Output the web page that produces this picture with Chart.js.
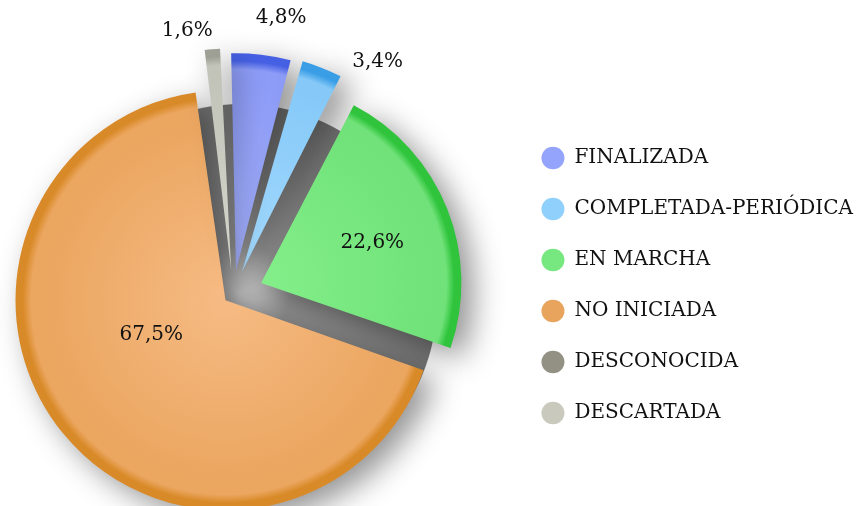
<!DOCTYPE html>
<html>
<head>
<meta charset="utf-8">
<script src="https://cdn.jsdelivr.net/npm/chart.js@4.4.1/dist/chart.umd.min.js"></script>
<style>
    html, body { margin: 0; padding: 0; background: #fff; overflow: hidden; width: 860px; height: 506px; }
    /* canvas is wider than the window so the pie can sit left of the legend */
    #chartBox { position: absolute; left: -100px; top: 0; width: 1000px; height: 506px; }
</style>
</head>
<body>
<div id="chartBox"><canvas id="myChart"></canvas></div>
<script>
//Categories and their share (%)
const categories = ['FINALIZADA', 'COMPLETADA-PERIÓDICA', 'EN MARCHA', 'NO INICIADA', 'DESCONOCIDA', 'DESCARTADA'];
const percentages = [4.8, 3.4, 22.6, 67.5, 0, 1.6];

//Colours
const legendColors = ['#94a3fb', '#8fd0fd', '#77e87f', '#e8a35c', '#939184', '#c9c9be'];
const centreColors = ['#a6b2ff', '#a4dafe', '#84ef8a', '#f6bb84', '#9a988c', '#d4d5cb'];
const edgeColors   = ['#8d9cf7', '#86c9f8', '#70e279', '#eba660', '#8a887c', '#c3c4b9'];
const rimColors    = ['#4660e4', '#3a9ee6', '#2fc43c', '#d98a28', '#6f6d62', '#9e9f95'];

//How far each slice is pulled out (px) and where its label goes
const explode    = [24, 24, 30, 10, 0, 24];
const labelTurn  = [3.5, 11.5, 2, 14.5, 0, -5.5];
const labelReach = [1.18, 1.14, 0.59, 0.39, 0, 1.10];

const PIE_RADIUS = 200;

function FormatPercent (_value)
{
    return _value.toFixed(1).replace('.', ',') + '%';
}

//Chart.js grows the radius of a pulled out arc by offset * fix
function RadiusFix (_index)
{
    var total = percentages.reduce(function (a, b) { return a + b; }, 0);
    var circ = percentages[_index] / total * Math.PI * 2;
    return 1 - Math.sin(Math.min(Math.PI, circ));
}

function SliceFill (_context)
{
    var chart = _context.chart;
    var area = chart.chartArea;
    var i = _context.dataIndex;
    if (!area)
    {
        return legendColors[i];
    }
    var cx = (area.left + area.right) / 2;
    var cy = (area.top + area.bottom) / 2;
    var outer = PIE_RADIUS + explode[i] * RadiusFix(i);
    var g = chart.ctx.createRadialGradient(cx, cy, 0, cx, cy, outer);
    g.addColorStop(0, centreColors[i]);
    g.addColorStop(0.86, edgeColors[i]);
    g.addColorStop(0.925, edgeColors[i]);
    g.addColorStop(0.965, rimColors[i]);
    g.addColorStop(1, rimColors[i]);
    return g;
}

//grey core behind the slices, and a soft shadow under every slice
const pieShadow =
{
    id: 'pieShadow',
    beforeDatasetsDraw: function (chart)
    {
        var arc = chart.getDatasetMeta(0).data[0];
        if (!arc) return;
        var ctx = chart.ctx;
        ctx.save();
        var g = ctx.createRadialGradient(arc.x + 6, arc.y, 0, arc.x + 6, arc.y, PIE_RADIUS);
        g.addColorStop(0, '#cccccc');
        g.addColorStop(0.25, '#959595');
        g.addColorStop(1, '#777777');
        ctx.fillStyle = g;
        ctx.beginPath();
        ctx.arc(arc.x + 8, arc.y + 6, PIE_RADIUS - 4, 0, Math.PI * 2);
        ctx.fill();
        ctx.restore();

        ctx.save();
        ctx.shadowColor = 'rgba(0, 0, 0, 0.42)';
        ctx.shadowBlur = 30;
        ctx.shadowOffsetX = 12;
        ctx.shadowOffsetY = 10;
    },
    afterDatasetsDraw: function (chart)
    {
        chart.ctx.restore();
    }
};

//percentage text on / next to each slice
const sliceLabels =
{
    id: 'sliceLabels',
    afterDatasetsDraw: function (chart)
    {
        var meta = chart.getDatasetMeta(0);
        var ctx = chart.ctx;
        ctx.save();
        ctx.font = '20px "DejaVu Serif"';
        ctx.fillStyle = '#111';
        ctx.textAlign = 'center';
        ctx.textBaseline = 'middle';
        meta.data.forEach(function (arc, i)
        {
            if (percentages[i] <= 0) return;
            var bis = (arc.startAngle + arc.endAngle) / 2;
            var ang = bis + labelTurn[i] * Math.PI / 180;
            var outer = arc.outerRadius + explode[i] * RadiusFix(i);
            var dist = outer * labelReach[i];
            var x = arc.x + Math.cos(bis) * explode[i] + Math.cos(ang) * dist;
            var y = arc.y + Math.sin(bis) * explode[i] + Math.sin(ang) * dist;
            ctx.fillText(FormatPercent(percentages[i]), x, y);
        });
        ctx.restore();
    }
};

DrawChart();

function DrawChart ()
{
    const data =
    {
        labels: categories,
        datasets:
        [
            {
                data: percentages,
                backgroundColor: SliceFill,
                borderWidth: 0,
                offset: explode.map(function (t) { return t * 4; }),
                hoverOffset: 0,
                clip: false
            }
        ]
    };

    const config =
    {
        type: 'pie',
        data: data,
        options:
        {
            responsive: true,
            maintainAspectRatio: false,
            animation: false,
            rotation: -2,
            radius: PIE_RADIUS,
            layout:
            {
                padding: { left: 56, right: 37, top: 117, bottom: 35 }
            },
            plugins:
            {
                tooltip: { enabled: false },
                legend:
                {
                    position: 'right',
                    align: 'start',
                    labels:
                    {
                        font: { family: 'DejaVu Serif', size: 20 },
                        color: '#111',
                        usePointStyle: true,
                        pointStyle: 'circle',
                        boxHeight: 16,
                        pointStyleWidth: 23,
                        padding: 31,
                        generateLabels: function (chart)
                        {
                            return categories.map(function (name, i)
                            {
                                return {
                                    text: name,
                                    fillStyle: legendColors[i],
                                    strokeStyle: legendColors[i],
                                    lineWidth: 0,
                                    pointStyle: 'circle',
                                    fontColor: '#111',
                                    hidden: false,
                                    index: i
                                };
                            });
                        }
                    }
                }
            }
        },
        plugins: [pieShadow, sliceLabels]
    };

    const ctx = document.getElementById('myChart').getContext('2d');
    if (ctx) {
        new Chart(ctx, config);
    } else {
        console.error('Element with ID "myChart" not found.');
    }
}
</script>
</body>
</html>
